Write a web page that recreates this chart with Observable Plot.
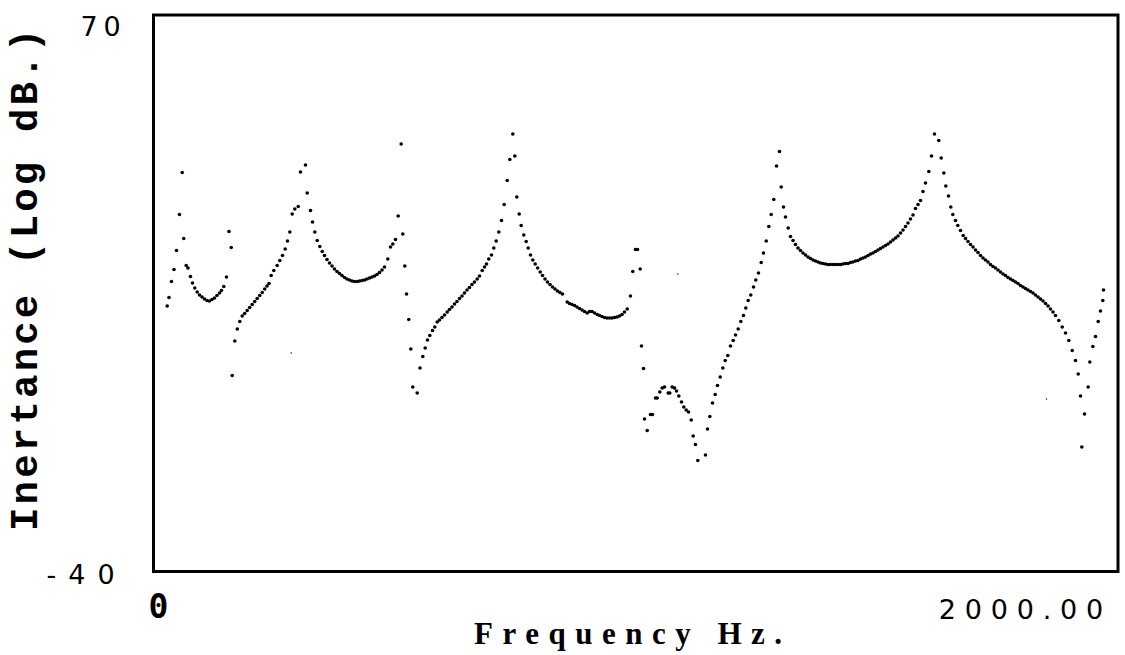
<!DOCTYPE html>
<html>
<head>
<meta charset="utf-8">
<script src="https://cdn.jsdelivr.net/npm/d3@7"></script>
<script src="https://cdn.jsdelivr.net/npm/@observablehq/plot@0.6"></script>
<style>
  html, body { margin: 0; padding: 0; background: #fff; }
</style>
</head>
<body>
<div id="chart"></div>
<script>
// Frequency (Hz) of each measured sample
const freq = [
  18.4, 22.2, 27.5, 32.8, 38.1, 44.4, 50.2, 53.5, 58.6, 62.4, 67.7, 72.0, 76.8, 81.9, 86.8, 92.1, 97.4, 102.6, 107.9, 113.2,
  118.5, 123.8, 129.1, 133.3, 138.2, 143.9, 149.2, 153.9, 156.0, 161.5, 166.8, 172.1, 177.1, 182.4, 187.7, 193.0, 198.3, 203.6, 208.9, 214.2,
  219.5, 224.8, 229.6, 233.9, 238.5, 244.0, 251.2, 256.7, 262.4, 268.1, 273.0, 277.9, 283.0, 288.5, 295.7, 300.5, 311.1, 314.7, 321.7, 325.9,
  330.8, 335.9, 341.4, 346.5, 351.3, 356.6, 361.9, 367.2, 372.5, 377.8, 383.1, 388.4, 393.7, 398.9, 404.2, 409.5, 414.8, 420.5, 425.4, 430.7,
  436.0, 441.3, 446.6, 451.9, 457.1, 462.4, 467.7, 473.0, 478.3, 485.3, 491.0, 495.9, 501.6, 507.3, 513.6, 517.0, 521.3, 524.9, 529.7, 534.0,
  538.2, 547.5, 553.4, 559.4, 564.4, 569.3, 574.2, 579.9, 584.8, 589.8, 594.7, 600.0, 605.3, 611.0, 615.9, 621.2, 626.5, 631.7, 637.0, 642.3,
  647.6, 652.9, 658.2, 663.5, 668.8, 674.5, 679.4, 685.1, 690.0, 694.2, 699.0, 704.8, 709.6, 714.7, 720.2, 725.9, 731.6, 738.0, 743.5, 749.9,
  754.1, 758.3, 763.4, 767.6, 773.1, 778.2, 782.4, 787.3, 792.2, 797.2, 802.5, 807.8, 812.7, 818.0, 823.3, 828.6, 833.9, 839.2, 844.4, 849.7,
  855.0, 865.0, 869.8, 875.1, 880.4, 885.7, 891.0, 896.3, 901.6, 907.3, 912.2, 917.5, 922.8, 928.5, 933.3, 938.6, 943.9, 949.2, 954.5, 959.8,
  965.1, 970.4, 975.7, 981.0, 986.2, 992.0, 998.9, 1003.8, 1009.5, 1013.8, 1019.5, 1022.2, 1026.5, 1028.6, 1034.3, 1041.3, 1045.5, 1051.9, 1055.4, 1061.0,
  1066.0, 1070.9, 1078.7, 1082.1, 1087.2, 1092.1, 1096.3, 1101.2, 1106.9, 1111.8, 1116.8, 1121.7, 1127.4, 1131.6, 1136.5, 1141.4, 1157.7, 1161.9, 1166.8, 1172.5,
  1178.2, 1183.1, 1188.8, 1194.3, 1199.4, 1204.9, 1210.6, 1216.3, 1221.2, 1226.9, 1232.4, 1238.1, 1243.0, 1248.0, 1253.5, 1259.3, 1264.1, 1269.8, 1275.6, 1280.4,
  1286.2, 1291.7, 1296.7, 1302.2, 1307.9, 1314.3, 1317.9, 1322.8, 1327.0, 1332.7, 1337.6, 1342.9, 1348.1, 1353.4, 1358.7, 1364.0, 1369.3, 1374.6, 1379.9, 1385.2,
  1390.5, 1395.8, 1401.1, 1406.4, 1411.6, 1416.9, 1422.2, 1427.5, 1432.8, 1438.1, 1443.4, 1448.7, 1454.0, 1459.3, 1464.5, 1469.8, 1475.1, 1480.4, 1485.7, 1491.0,
  1496.3, 1501.6, 1506.9, 1512.2, 1517.5, 1522.8, 1528.0, 1533.3, 1538.6, 1543.9, 1549.2, 1554.5, 1559.8, 1565.1, 1570.4, 1575.7, 1581.0, 1586.2, 1591.5, 1596.8,
  1602.1, 1607.4, 1612.7, 1618.0, 1623.3, 1630.3, 1636.0, 1642.3, 1651.4, 1656.5, 1662.0, 1666.3, 1672.0, 1676.8, 1681.1, 1686.8, 1691.6, 1697.4, 1703.1, 1708.0,
  1713.2, 1718.5, 1723.8, 1729.1, 1734.4, 1739.7, 1745.0, 1750.3, 1755.6, 1760.8, 1766.1, 1771.4, 1776.7, 1782.0, 1787.3, 1792.6, 1797.9, 1803.2, 1808.5, 1813.8,
  1819.1, 1824.3, 1829.6, 1834.9, 1840.2, 1845.5, 1850.8, 1856.1, 1861.4, 1866.7, 1872.0, 1877.3, 1882.6, 1887.8, 1893.1, 1898.4, 1905.4, 1912.6, 1919.6, 1926.6,
  1933.8, 1940.7, 1946.5, 1951.3, 1954.1, 1959.8, 1967.6, 1971.0, 1977.4, 1983.1, 1988.8, 1993.6, 1998.5, 2000.0
];

// Inertance (Log dB) of each sample
const inertance = [
  12.5, 14.2, 17.4, 19.8, 23.6, 30.8, 39.2, 26.0, 20.6, 20.1, 18.4, 17.1, 16.1, 15.3, 14.7, 14.3, 13.9, 13.6, 13.5, 13.8,
  14.1, 14.6, 15.1, 15.6, 16.4, 18.3, 27.4, 24.2, -1.4, 5.5, 7.9, 9.4, 10.5, 11.0, 11.6, 12.2, 12.8, 13.4, 14.0, 14.6,
  15.2, 15.9, 16.5, 17.0, 18.6, 19.6, 20.6, 21.6, 22.6, 23.9, 25.5, 27.3, 30.9, 31.9, 32.4, 39.3, 40.7, 35.1, 31.6, 29.3,
  27.3, 25.6, 24.4, 23.4, 22.6, 21.8, 21.1, 20.5, 19.9, 19.4, 19.0, 18.6, 18.2, 17.9, 17.7, 17.5, 17.4, 17.4, 17.5, 17.6,
  17.7, 17.9, 18.1, 18.3, 18.5, 18.8, 19.2, 19.7, 20.3, 21.9, 24.3, 24.9, 25.8, 30.5, 44.9, 26.9, 20.5, 14.9, 9.8, 3.9,
  -3.7, -4.9, 0.1, 2.4, 4.1, 5.7, 6.6, 7.6, 8.3, 9.3, 9.7, 10.2, 10.7, 11.3, 11.8, 12.3, 12.9, 13.4, 14.0, 14.5,
  15.1, 15.7, 16.2, 16.8, 17.3, 17.9, 18.5, 19.6, 20.3, 20.9, 21.9, 22.7, 24.1, 25.5, 27.3, 29.6, 32.8, 37.6, 41.8, 46.9,
  42.5, 34.3, 30.9, 28.6, 26.7, 25.4, 24.1, 22.7, 21.7, 20.9, 20.1, 19.3, 18.6, 17.9, 17.3, 16.8, 16.3, 15.9, 15.5, 15.2,
  14.9, 13.3, 13.0, 12.8, 12.6, 12.3, 12.0, 11.7, 11.4, 11.1, 11.4, 11.4, 11.1, 10.8, 10.6, 10.4, 10.2, 10.1, 10.1, 10.1,
  10.2, 10.3, 10.5, 10.8, 11.3, 11.9, 14.5, 19.4, 23.8, 23.8, 19.9, 4.5, 0.0, -10.1, -12.4, -9.2, -9.2, -5.9, -5.9, -4.7,
  -3.9, -3.7, -4.9, -4.9, -3.7, -3.9, -4.5, -5.5, -6.7, -7.7, -8.3, -8.7, -10.3, -13.5, -15.2, -18.4, -17.3, -12.1, -9.6, -6.9,
  -5.2, -3.4, -1.7, 0.1, 1.6, 2.6, 4.5, 5.6, 6.7, 7.9, 9.4, 10.6, 12.1, 13.6, 14.7, 16.3, 17.7, 19.1, 21.2, 23.1,
  25.5, 28.4, 30.8, 33.8, 40.5, 43.4, 36.3, 32.3, 30.3, 28.1, 26.4, 25.6, 24.8, 24.1, 23.6, 23.1, 22.7, 22.3, 22.0, 21.7,
  21.5, 21.3, 21.1, 21.0, 20.9, 20.8, 20.8, 20.8, 20.8, 20.8, 20.8, 20.9, 21.0, 21.0, 21.2, 21.3, 21.5, 21.6, 21.9, 22.1,
  22.3, 22.6, 22.9, 23.1, 23.4, 23.7, 24.0, 24.3, 24.6, 24.9, 25.3, 25.7, 26.1, 26.5, 27.1, 27.7, 28.4, 29.1, 29.9, 30.7,
  32.0, 32.8, 33.6, 35.4, 37.1, 39.4, 42.5, 46.9, 45.6, 42.1, 39.1, 36.5, 34.5, 32.3, 30.8, 29.6, 28.6, 27.6, 26.6, 26.0,
  25.4, 24.8, 24.3, 23.7, 23.2, 22.6, 22.1, 21.7, 21.3, 20.8, 20.4, 20.1, 19.7, 19.3, 18.9, 18.6, 18.2, 17.9, 17.6, 17.3,
  17.0, 16.6, 16.3, 16.0, 15.7, 15.4, 15.1, 14.7, 14.3, 13.9, 13.5, 13.0, 12.5, 11.9, 11.3, 10.6, 9.6, 8.3, 7.1, 5.6,
  3.6, 1.6, -1.1, -5.5, -15.7, -9.1, -3.7, 1.3, 4.4, 6.4, 9.4, 11.5, 13.6, 15.7
];

// Isolated faint samples
const strayFreq = [280.8, 1099.1, 1879.4];
const strayInertance = [3.1, 18.9, -6.1];

// Axis ticks
const xTickValues = [0, 2000];
const xTickLabels = ["0", "2000.00"];
const yTickValues = [-40, 70];
const yTickLabels = ["-40", "70"];
const xLabel = "Frequency Hz.";
const yLabel = "Inertance (Log dB.)";

const points = freq.map((f, i) => ({f, db: inertance[i]}));
const strays = strayFreq.map((f, i) => ({f, db: strayInertance[i]}));

const chart = Plot.plot({
  width: 1125,
  height: 655,
  marginLeft: 153,
  marginRight: 7.5,
  marginTop: 14.5,
  marginBottom: 84,
  x: {domain: [0, 2000], range: [158, 1103], axis: null},
  y: {domain: [-40, 70], range: [568, 18], axis: null},
  style: {background: "white", color: "black"},
  marks: [
    Plot.frame({stroke: "black", strokeWidth: 3}),
    Plot.dot(points, {x: "f", y: "db", r: 1.8, fill: "black"}),
    Plot.dot(strays, {x: "f", y: "db", r: 0.7, fill: "black"}),
    // y tick labels
    Plot.text([yTickValues[1]], {y: d => d, frameAnchor: "left", text: () => yTickLabels[1],
      textAnchor: "start", lineAnchor: "bottom", dx: -73, dy: 17,
      fontSize: 27, fontFamily: "DejaVu Sans", fill: "black"}),
    Plot.text([yTickValues[0]], {y: d => d, frameAnchor: "left", text: () => yTickLabels[0],
      textAnchor: "start", lineAnchor: "bottom", dx: -107, dy: 15,
      fontSize: 27, fontFamily: "DejaVu Sans", fill: "black"}),
    // x tick labels
    Plot.text([xTickValues[0]], {x: d => d, frameAnchor: "bottom", text: () => xTickLabels[0],
      textAnchor: "middle", lineAnchor: "bottom", dy: 46,
      fontSize: 33, fontWeight: "bold", fontFamily: "DejaVu Sans Mono", fill: "black"}),
    Plot.text([xTickValues[1]], {x: d => d, frameAnchor: "bottom", text: () => xTickLabels[1],
      textAnchor: "end", lineAnchor: "bottom", dx: 8.5, dy: 47,
      fontSize: 27, fontFamily: "DejaVu Sans", fill: "black"}),
    // axis titles
    Plot.text([xLabel], {frameAnchor: "bottom", text: d => d, textAnchor: "middle", lineAnchor: "bottom",
      dx: -3, dy: 72, fontSize: 31, fontWeight: "bold", fontFamily: "Liberation Serif",
      fill: "black"}),
    Plot.text([yLabel], {frameAnchor: "left", text: d => d, rotate: -90, textAnchor: "middle", lineAnchor: "bottom",
      dx: -117, dy: -15, fontSize: 39, fontWeight: "bold", fontFamily: "Liberation Mono",
      fill: "black"})
  ]
});

document.getElementById("chart").appendChild(chart);

const spacing = {
  [yTickLabels[1]]: "5.8px",
  [yTickLabels[0]]: "12px",
  [xTickLabels[1]]: "8.8px",
  [xLabel]: "9.5px",
  [yLabel]: "3.2px"
};
d3.select(chart).selectAll("text").each(function() {
  const t = this.textContent;
  if (spacing[t]) this.setAttribute("letter-spacing", spacing[t]), this.style.letterSpacing = spacing[t];
});
</script>
</body>
</html>
